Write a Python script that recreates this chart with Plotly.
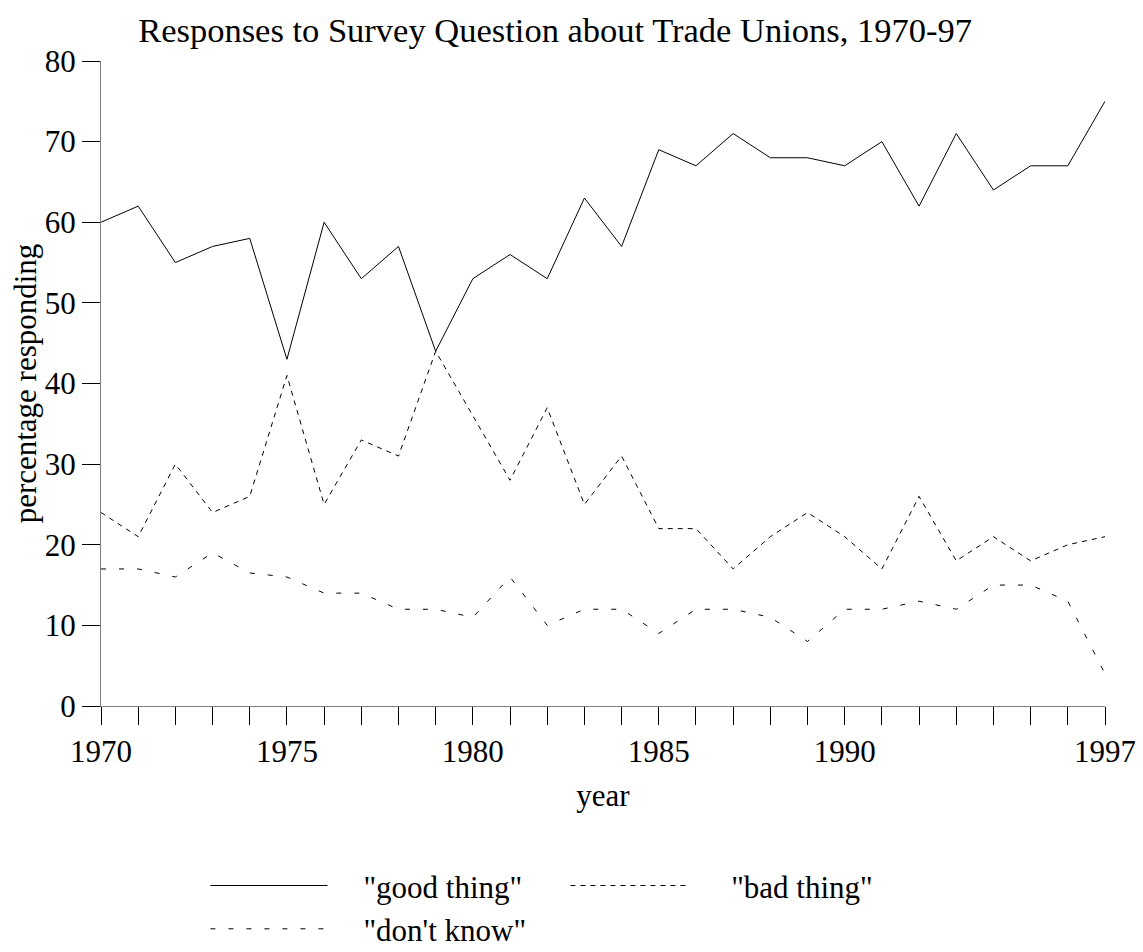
import plotly.graph_objects as go

years = list(range(1970, 1998))
good_thing = [60, 62, 55, 57, 58, 43, 60, 53, 57, 44, 53, 56, 53, 63, 57,
              69, 67, 71, 68, 68, 67, 70, 62, 71, 64, 67, 67, 75]
bad_thing = [24, 21, 30, 24, 26, 41, 25, 33, 31, 44, 36, 28, 37, 25, 31,
             22, 22, 17, 21, 24, 21, 17, 26, 18, 21, 18, 20, 21]
dont_know = [17, 17, 16, 19, 16.5, 16, 14, 14, 12, 12, 11, 16, 10, 12, 12,
             9, 12, 12, 11, 8, 12, 12, 13, 12, 15, 15, 13, 4]

x_tick_vals = years
x_tick_labels = [str(y) if y in (1970, 1975, 1980, 1985, 1990, 1997) else "" for y in years]
y_tick_vals = [0, 10, 20, 30, 40, 50, 60, 70, 80]

FONT = "Liberation Serif"
nb = "\u00a0"

fig = go.Figure()
fig.add_trace(go.Scatter(x=years, y=good_thing, mode="lines", name=nb * 4 + '"good thing"',
                         line=dict(color="black", width=1)))
fig.add_trace(go.Scatter(x=years, y=bad_thing, mode="lines", name=nb * 5 + '"bad thing"',
                         line=dict(color="black", width=1, dash="5px,5px")))
fig.add_trace(go.Scatter(x=years, y=dont_know, mode="lines", name=nb * 4 + '"don\'t know"',
                         line=dict(color="black", width=1, dash="5px,13px")))

fig.update_layout(
    width=1135, height=944,
    paper_bgcolor="white", plot_bgcolor="white",
    font=dict(family=FONT, color="black", size=31),
    margin=dict(l=93, r=38, t=53, b=246, autoexpand=False),
    title=dict(text="Responses to Survey Question about Trade Unions, 1970-97",
               x=0.482, xanchor="center", y=0.99, yanchor="top",
               font=dict(family=FONT, size=34.5, color="black")),
    xaxis=dict(range=[1970, 1997], tickmode="array", tickvals=x_tick_vals,
               ticktext=x_tick_labels, ticks="outside", ticklen=18, tickcolor="black",
               tickwidth=1, showline=True, linecolor="#808080", linewidth=1,
               showgrid=False, zeroline=False, tickfont=dict(size=31),
               ticklabeloverflow="allow",
               title=dict(text="year", font=dict(size=31), standoff=16)),
    yaxis=dict(range=[0, 80], tickmode="array", tickvals=y_tick_vals,
               ticks="outside", ticklen=18, tickcolor="black", tickwidth=1,
               showline=True, linecolor="#808080", linewidth=1,
               showgrid=False, zeroline=False, tickfont=dict(size=31),
               title=dict(text="percentage responding", font=dict(size=31), standoff=16)),
    legend=dict(orientation="h", x=0.104, xanchor="left", y=-0.237, yanchor="top",
                itemwidth=117, entrywidth=228, entrywidthmode="pixels",
                font=dict(size=31), tracegroupgap=0, itemclick=False),
    showlegend=True,
)

fig.write_html("out.html")
